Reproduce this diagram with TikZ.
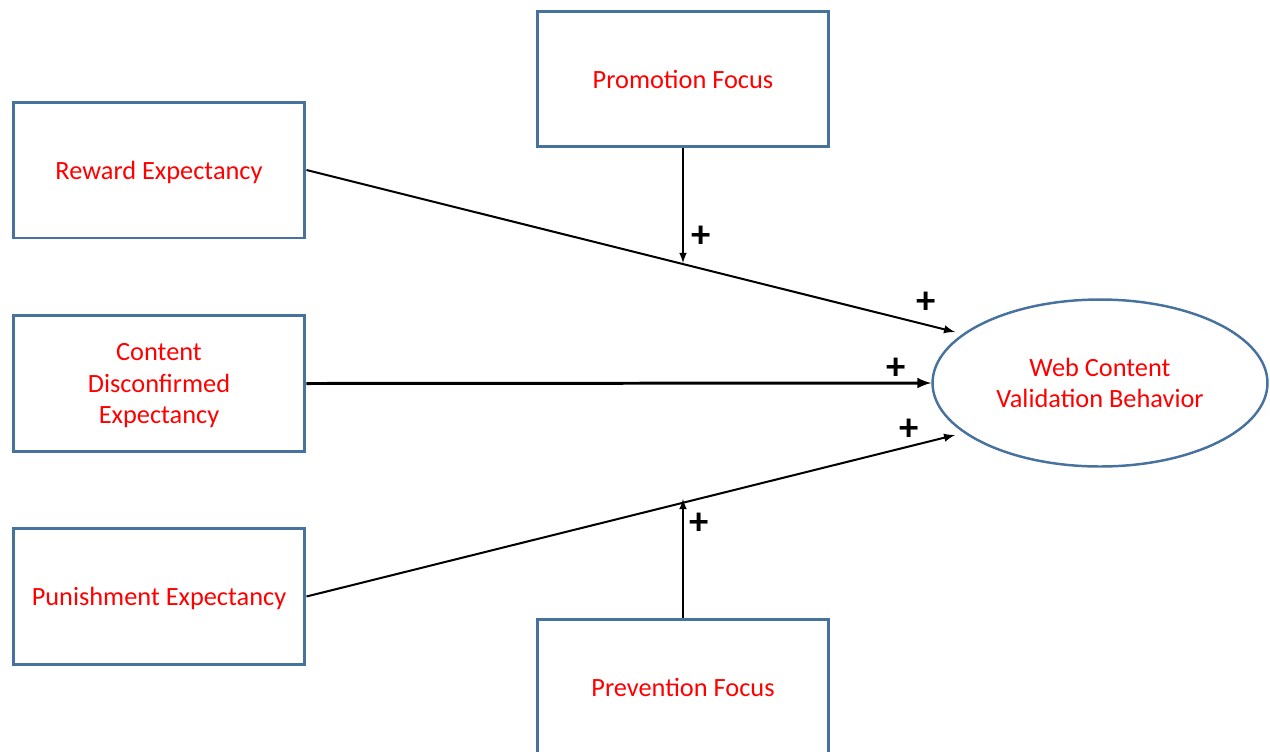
\documentclass[tikz,border=0pt]{standalone}
\usepackage{fontspec}
\setmainfont{Carlito}
\usetikzlibrary{shapes,arrows,positioning}
\definecolor{boxblue}{RGB}{70,114,157}
\tikzset{
  factor/.style={draw=boxblue, line width=1.7pt, minimum width=5.84cm, minimum height=2.72cm,
    inner sep=0pt, text depth=0pt, text=red, align=center, font=\fontsize{15}{18}\selectfont},
  outcome/.style={ellipse, draw=boxblue, line width=1.4pt, minimum width=6.7cm, minimum height=3.34cm,
    inner sep=0pt, text=red, align=center, font=\fontsize{15}{18}\selectfont},
  effect/.style={-latex, line width=1.15pt},
  sign/.style={font=\fontsize{22}{22}\selectfont\bfseries}
}
\begin{document}
\begin{tikzpicture}[x=0.02cm, y=-0.02cm]
    \useasboundingbox (0,0) rectangle (1270,751);
    \clip (0,0) rectangle (1270,751);

    \node[factor] (rew) at (159,170) {Reward Expectancy};
    \node[factor] (cont) at (159,383.5) {Content\\Disconfirmed\\Expectancy};
    \node[factor] (pun) at (159,596.5) {Punishment Expectancy};
    \node[factor] (prom) at (683,79) {Promotion Focus};
    \node[factor] (prev) at (683,687) {Prevention Focus};
    \node[outcome] (web) at (1100,383) {Web Content\\Validation Behavior};

    \coordinate (rewtip) at (955,332);
    \coordinate (puntip) at (955,435);
    \coordinate (promtip) at (683,263);
    \coordinate (prevtip) at (683,499);

        \draw[effect] (rew.east) -- (rewtip);
        \draw[effect, line width=1.7pt] (cont.east) -- (web.west);
        \draw[effect] (pun.east) -- (puntip);

        \draw[effect, line width=1pt] (prom.south) -- (promtip);
        \draw[effect, line width=1pt] (prev.north) -- (prevtip);

     \node[sign] (s1) at (701,237) {+};
     \node[sign] (s2) at (926,303) {+};
     \node[sign] (s3) at (896,369) {+};
     \node[sign] (s4) at (909,430) {+};
     \node[sign] (s5) at (699,524) {+};
\end{tikzpicture}
\end{document}
